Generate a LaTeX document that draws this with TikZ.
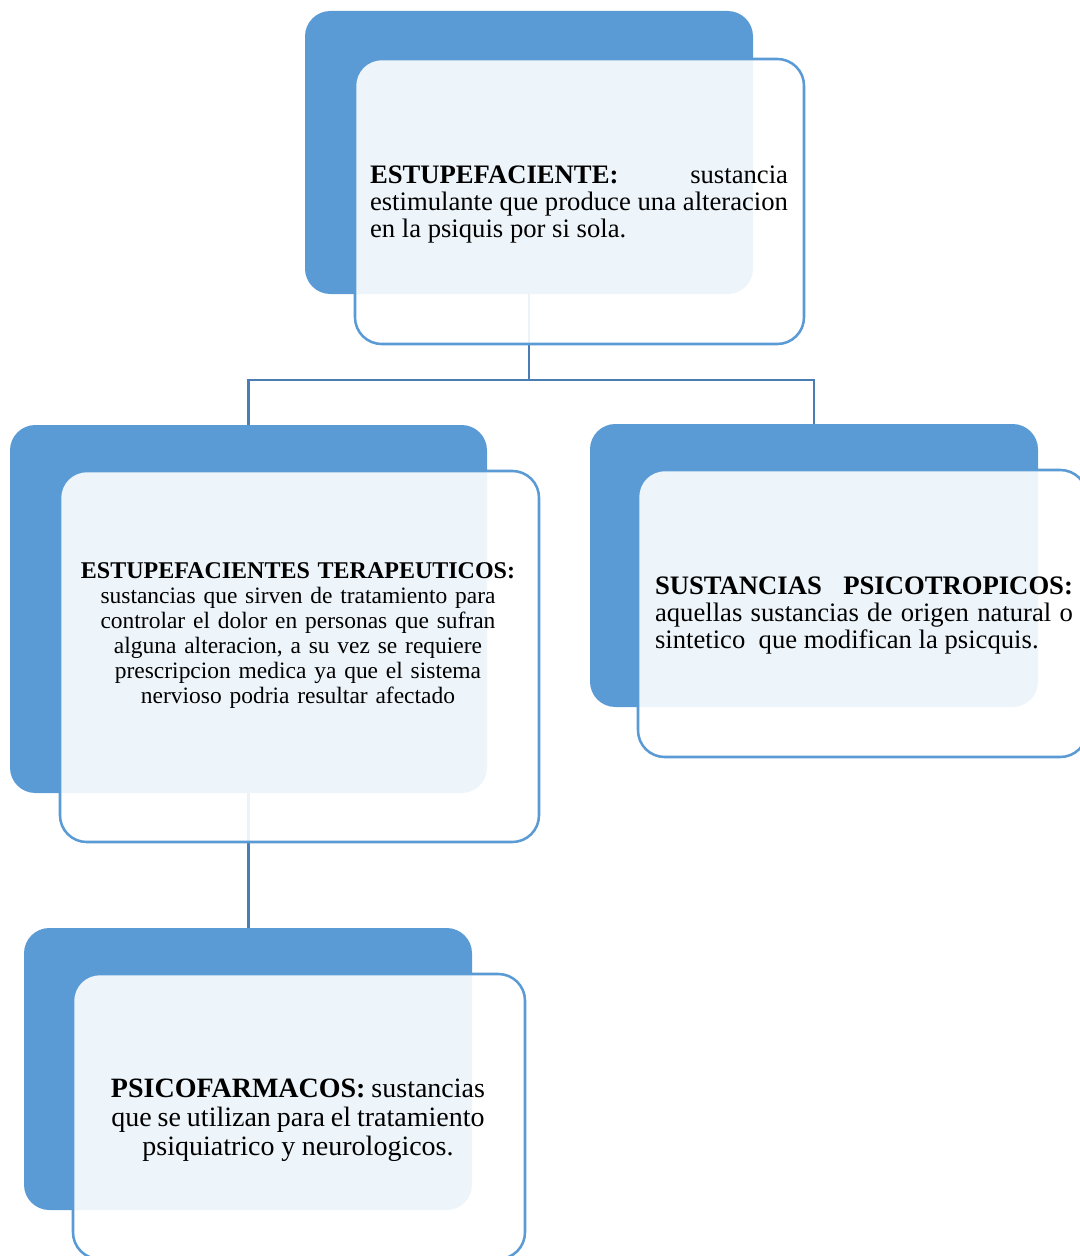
\documentclass[tikz,border=0pt]{standalone}
\usepackage{fontspec}
\setmainfont{Liberation Serif}
\definecolor{boxblue}{HTML}{5B9BD5}
\definecolor{lineblue}{HTML}{4A7DB4}
\newcommand{\tightspaces}{\spaceskip=0.19em plus 0.05em minus 0.02em\relax}
\tikzset{
  backbox/.style={rectangle, fill=boxblue, draw=none, rounded corners=19pt, inner sep=0pt, outer sep=0pt, anchor=north west},
  frontbox/.style={rectangle, fill=white, fill opacity=0.9, draw=boxblue, line width=1.9pt, rounded corners=20pt, inner sep=0pt, outer sep=0pt, anchor=north west},
  conn/.style={draw=lineblue, line width=1.8pt},
  txt/.style={text=black, inner sep=0pt, outer sep=0pt},
}
\begin{document}
\begin{tikzpicture}[x=0.75pt,y=-0.75pt]
\useasboundingbox (0,0) rectangle (1080,1256);
\clip (0,0) rectangle (1080,1256);
% back boxes
\node[backbox, minimum width=336pt, minimum height=212.25pt] (b1) at (305,11) {};
\node[backbox, minimum width=357.75pt, minimum height=276pt] (b2) at (10,425) {};
\node[backbox, minimum width=336pt, minimum height=212.25pt] (b3) at (590,424) {};
\node[backbox, minimum width=336pt, minimum height=211.5pt] (b4) at (24,928) {};
% connectors
\coordinate (j1) at (529,380);
\draw[conn] (b1.south) -- (j1);
\draw[conn] (j1) -| (b2.north);
\draw[conn] (j1) -| (b3.north);
\draw[conn] (b2.south) -- (b2.south |- b4.north);
% front boxes
\node[frontbox, minimum width=336.75pt, minimum height=213.75pt] (f1) at (355,59) {};
\node[frontbox, minimum width=359.25pt, minimum height=278.25pt] (f2) at (60,471) {};
\node[frontbox, minimum width=336.75pt, minimum height=215.25pt] (f3) at (638,470) {};
\node[frontbox, minimum width=339pt, minimum height=213.75pt] (f4) at (73,974) {};
% texts
\node[txt, anchor=base west, text width=313.5pt, align=justify, font=\fontsize{20}{20.6}\selectfont] (t1) at (370,183)
 {\textbf{ESTUPEFACIENTE:} sustancia\linebreak estimulante que produce una alteracion\linebreak en la psiquis por si sola.};
\node[txt, anchor=base, text width=345pt, align=center, font=\fontsize{17.6}{18.75}\selectfont] (t2) at (298,578)
 {{\fontsize{18}{18.75}\selectfont\textbf{ESTUPEFACIENTES TERAPEUTICOS:}}\\ sustancias que sirven de tratamiento para\\ controlar el dolor en personas que sufran\\ alguna alteracion, a su vez se requiere\\ prescripcion medica ya que el sistema\\ nervioso podria resultar afectado};
\node[txt, anchor=base west, text width=313.5pt, align=justify, font=\fontsize{20}{20.25}\selectfont] (t3) at (655,594)
 {\textbf{SUSTANCIAS PSICOTROPICOS:}\linebreak aquellas sustancias de origen natural o\linebreak sintetico\ \ que modifican la psicquis.};
\node[txt, anchor=base, text width=315pt, align=center, font=\fontsize{21}{21.75}\selectfont] (t4) at (298,1097)
 {\tightspaces\textbf{PSICOFARMACOS:} sustancias\\ \tightspaces que se utilizan para el tratamiento\\ \tightspaces psiquiatrico y neurologicos.};
\end{tikzpicture}
\end{document}
